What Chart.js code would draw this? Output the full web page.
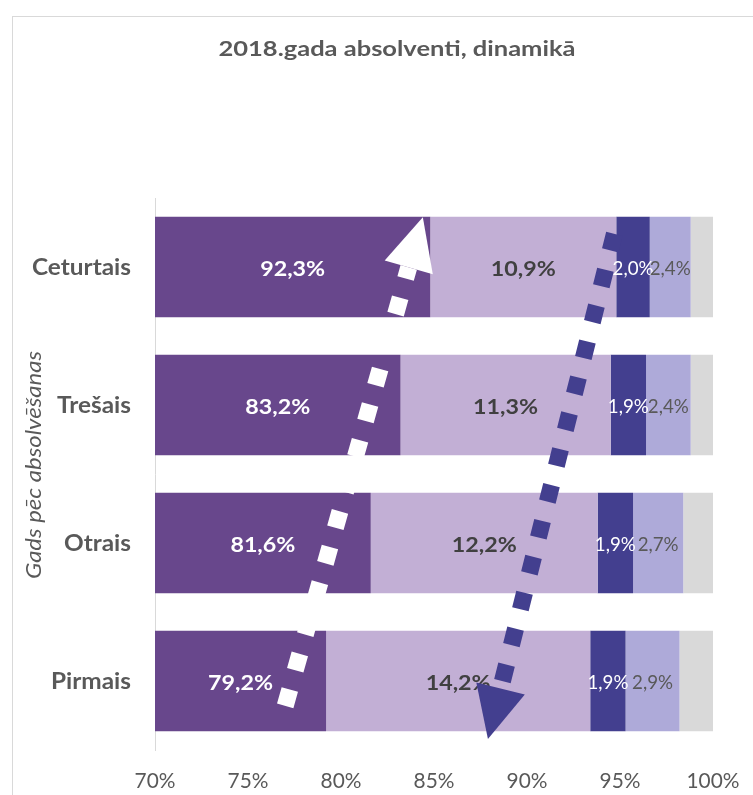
<!DOCTYPE html>
<html><head><meta charset="utf-8">
<script src="https://cdn.jsdelivr.net/npm/chart.js@4"></script>
<style>html,body{margin:0;padding:0;background:#fff;}#wrap{position:relative;width:753px;height:795px;}</style>
</head><body><div id="wrap"><canvas id="c" width="753" height="795"></canvas></div>
<script>
// ---- data ----
const categories = ['Ceturtais', 'Trešais', 'Otrais', 'Pirmais'];
const seg1 = [84.8, 83.2, 81.6, 79.2];
const seg2 = [10.0, 11.3, 12.2, 14.2];
const seg3 = [1.8, 1.9, 1.9, 1.9];
const seg4 = [2.2, 2.4, 2.7, 2.9];
const seg5 = [1.2, 1.2, 1.6, 1.8];
const labels1 = ['92,3%', '83,2%', '81,6%', '79,2%'];
const labels2 = ['10,9%', '11,3%', '12,2%', '14,2%'];
const labels3 = ['2,0%', '1,9%', '1,9%', '1,9%'];
const labels4 = ['2,4%', '2,4%', '2,7%', '2,9%'];
const xTickValues = [70, 75, 80, 85, 90, 95, 100];
const chartTitle = '2018.gada absolventi, dinamikā';
const yAxisTitle = 'Gads pēc absolvēšanas';
// arrow annotations in data units: [x%, category index]
const arrowUp = { from: [77.0, 3.18], to: [84.4, -0.36] };
const arrowDown = { from: [94.7, -0.24], to: [87.9, 3.42] };

const FAM = 'Lato, "Open Sans", sans-serif';
const GRAY = '#595959';
const colors = ['#68478C', '#C2AFD5', '#433F8F', '#AEAAD9', '#D9D9D9'];
const labelSets = [labels1, labels2, labels3, labels4];

// text styles: font, sample string and the width it has in the reference
const ST = {
  title: { font: `bold 21px ${FAM}`, sample: chartTitle, w: 357 },
  cat:   { font: `bold 23px ${FAM}`, sample: 'Ceturtais', w: 99 },
  ytitle:{ font: `italic 21px ${FAM}`, sample: yAxisTitle, w: 228 },
  xtick: { font: `21px ${FAM}`, sample: '100%', w: 53 },
  big:   { font: `bold 20px ${FAM}`, sample: '92,3%', w: 65 },
  small: { font: `19px ${FAM}`, sample: '2,4%', w: 41 }
};
const labelStyles = [
  { st: 'big', color: '#FFFFFF' },
  { st: 'big', color: '#404040' },
  { st: 'small', color: '#FFFFFF' },
  { st: 'small', color: '#595959' }
];

function sxFor(ctx, key) {
  const s = ST[key];
  if (s.sx) return s.sx;
  ctx.save(); ctx.font = s.font; const w = ctx.measureText(s.sample).width; ctx.restore();
  s.sx = s.w / w;
  return s.sx;
}
function txt(ctx, key, text, x, y, color, align, baseline) {
  const sx = sxFor(ctx, key);
  ctx.save();
  ctx.font = ST[key].font; ctx.fillStyle = color;
  ctx.textAlign = align; ctx.textBaseline = baseline || 'alphabetic';
  ctx.translate(x, y); ctx.scale(sx, 1);
  ctx.fillText(text, 0, 0);
  ctx.restore();
}

function drawArrow(ctx, x0, y0, x1, y1, color) {
  const dx = x1 - x0, dy = y1 - y0, L = Math.hypot(dx, dy);
  const ux = dx / L, uy = dy / L;
  const headLen = 52, headW = 50;
  const bx = x1 - ux * headLen, by = y1 - uy * headLen;
  ctx.save();
  ctx.strokeStyle = color; ctx.lineWidth = 17; ctx.lineCap = 'butt';
  ctx.setLineDash([17, 20]);
  ctx.beginPath(); ctx.moveTo(x0, y0); ctx.lineTo(bx, by); ctx.stroke();
  ctx.setLineDash([]);
  ctx.fillStyle = color;
  ctx.beginPath();
  ctx.moveTo(x1, y1);
  ctx.lineTo(bx - uy * headW / 2, by + ux * headW / 2);
  ctx.lineTo(bx + uy * headW / 2, by - ux * headW / 2);
  ctx.closePath(); ctx.fill();
  ctx.restore();
}

const overlay = {
  id: 'overlay',
  beforeDraw(chart) {
    const ctx = chart.ctx;
    ctx.save();
    ctx.fillStyle = '#fff'; ctx.fillRect(0, 0, chart.width, chart.height);
    ctx.strokeStyle = '#D9D9D9'; ctx.lineWidth = 1;
    ctx.strokeRect(12.5, 16.5, 900, 900);
    ctx.restore();
  },
  afterDatasetsDraw(chart) {
    const ctx = chart.ctx, area = chart.chartArea;
    const xs = chart.scales.x, ys = chart.scales.y;
    // data labels
    labelSets.forEach((set, di) => {
      const meta = chart.getDatasetMeta(di);
      const ls = labelStyles[di];
      meta.data.forEach((bar, i) => {
        const left = Math.max(Math.min(bar.base, bar.x), area.left);
        const right = Math.min(Math.max(bar.base, bar.x), area.right);
        txt(ctx, ls.st, set[i], (left + right) / 2, bar.y + (ls.st === 'big' ? 8.5 : 7.5), ls.color, 'center');
      });
    });
    // arrows
    const p = (pt) => [xs.getPixelForValue(pt[0]), ys.getPixelForValue(pt[1])];
    let a = p(arrowUp.from), b = p(arrowUp.to);
    drawArrow(ctx, a[0], a[1], b[0], b[1], '#FFFFFF');
    a = p(arrowDown.from); b = p(arrowDown.to);
    drawArrow(ctx, a[0], a[1], b[0], b[1], '#433F8F');
  },
  afterDraw(chart) {
    const ctx = chart.ctx, area = chart.chartArea;
    const xs = chart.scales.x, ys = chart.scales.y;
    // title
    txt(ctx, 'title', chartTitle, 397, 56, GRAY, 'center');
    // category labels
    categories.forEach((c, i) => {
      txt(ctx, 'cat', c, area.left - 24, ys.getPixelForValue(i) + 8, GRAY, 'right');
    });
    // x tick labels
    xTickValues.forEach((v) => {
      txt(ctx, 'xtick', v + '%', xs.getPixelForValue(v), 788, GRAY, 'center');
    });
    // y axis title
    ctx.save();
    ctx.translate(34, (area.top + area.bottom) / 2 - 9);
    ctx.rotate(-Math.PI / 2);
    txt(ctx, 'ytitle', yAxisTitle, 0, 0, GRAY, 'center', 'middle');
    ctx.restore();
  }
};

const datasets = [seg1, seg2, seg3, seg4, seg5].map((d, i) => ({
  data: d,
  backgroundColor: colors[i],
  borderWidth: 0,
  barPercentage: 0.73,
  categoryPercentage: 1.0
}));

new Chart(document.getElementById('c'), {
  type: 'bar',
  data: { labels: categories, datasets },
  options: {
    indexAxis: 'y',
    responsive: false,
    animation: false,
    layout: { padding: { top: 198, right: 40, left: 0, bottom: 0 } },
    plugins: { legend: { display: false }, title: { display: false }, tooltip: { enabled: false } },
    scales: {
      x: {
        stacked: true, min: 70, max: 100,
        afterBuildTicks: (s) => { s.ticks = xTickValues.map(v => ({ value: v })); },
        afterFit: (s) => { s.height = 45; },
        grid: { display: false, drawTicks: false },
        border: { display: false },
        ticks: { display: false }
      },
      y: {
        stacked: true,
        afterFit: (s) => { s.width = 155; },
        grid: { display: false, drawTicks: false },
        border: { display: true, color: '#D9D9D9', width: 1 },
        ticks: { display: false }
      }
    }
  },
  plugins: [overlay]
});
</script></body></html>
